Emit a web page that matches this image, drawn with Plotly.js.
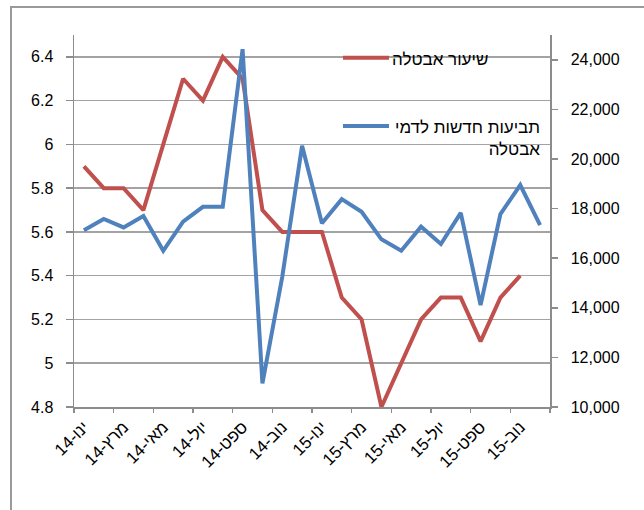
<!DOCTYPE html>
<html>
<head>
<meta charset="utf-8">
<script src="https://cdn.plot.ly/plotly-3.0.1.min.js"></script>
<style>
  html, body { margin: 0; padding: 0; background: #ffffff; overflow: hidden; }
  #chart { position: absolute; left: 0; top: 0; width: 644px; height: 510px; }
  #frame { position: absolute; left: 10px; top: 6px; width: 700px; height: 600px;
           border-left: 2px solid #9a9a9a; border-top: 2px solid #9a9a9a; pointer-events: none; }
</style>
</head>
<body>
<div id="chart"></div>
<div id="frame"></div>
<script>
// Categories (months Jan-14 .. Dec-15)
const categories = ['ינו-14','פבר-14','מרץ-14','אפר-14','מאי-14','יונ-14','יול-14','אוג-14','ספט-14','אוק-14','נוב-14','דצמ-14',
                    'ינו-15','פבר-15','מרץ-15','אפר-15','מאי-15','יונ-15','יול-15','אוג-15','ספט-15','אוק-15','נוב-15','דצמ-15'];
// Tick labels shown on the x axis
const tickLabels = ['ינו-14','מרץ-14','מאי-14','יול-14','ספט-14','נוב-14','ינו-15','מרץ-15','מאי-15','יול-15','ספט-15','נוב-15'];
// Series 1: unemployment rate (left axis)
const unemploymentRate = [5.9,5.8,5.8,5.7,6.0,6.3,6.2,6.4,6.3,5.7,5.6,5.6,5.6,5.3,5.2,4.8,5.0,5.2,5.3,5.3,5.1,5.3,5.4];
// Series 2: new unemployment benefit claims (right axis)
const newClaims = [17130,17580,17240,17700,16300,17470,18070,18070,24430,10950,15250,20530,
                   17410,18380,17870,16760,16300,17270,16570,17830,14110,17780,18950,17330];
// Legend names
const nameRate = 'שיעור אבטלה';
const nameClaims = 'תביעות חדשות לדמי<br>אבטלה';

const RED = '#C0504D';
const BLUE = '#4F81BD';
const FONT = 'Liberation Sans, Arial, DejaVu Sans, sans-serif';

const traces = [
  // empty helper trace so the tick-mark companion axis (x2) gets drawn
  { x: [], y: [], type: 'scatter', mode: 'lines', xaxis: 'x2', yaxis: 'y', showlegend: false, hoverinfo: 'skip' },
  { x: categories.slice(0, unemploymentRate.length), y: unemploymentRate, type: 'scatter', mode: 'lines',
    name: nameRate, line: { color: RED, width: 4 }, xaxis: 'x', yaxis: 'y', showlegend: false },
  { x: categories.slice(0, newClaims.length), y: newClaims, type: 'scatter', mode: 'lines',
    name: nameClaims, line: { color: BLUE, width: 4 }, xaxis: 'x', yaxis: 'y2', showlegend: false }
];

// plot area helpers for the legend (paper coords)
const L = 74, R = 550, T = 35, B = 407;
const px = v => (v - L) / (R - L);
const py = v => (B - v) / (B - T);

const layout = {
  width: 644, height: 510,
  margin: { l: L, r: 644 - R, t: T, b: 510 - B },
  paper_bgcolor: '#ffffff', plot_bgcolor: '#ffffff',
  font: { family: FONT, size: 16, color: '#000000' },
  showlegend: false,
  xaxis: {
    type: 'category',
    categoryorder: 'array', categoryarray: categories,
    range: [-0.5, categories.length - 0.5],
    tickmode: 'array', tickvals: tickLabels, ticktext: tickLabels,
    tickangle: -45,
    ticks: '', ticklabelstandoff: 2,
    showline: true, linecolor: '#8c8c8c', linewidth: 1.5,
    showgrid: false, zeroline: false,
    tickfont: { family: FONT, size: 17, color: '#000' }
  },
  // companion axis only used to place tick marks between every second category
  xaxis2: {
    overlaying: 'x', anchor: 'y', side: 'bottom', type: 'linear',
    range: [-0.5, categories.length - 0.5],
    tickmode: 'linear', tick0: -0.5, dtick: 2,
    ticks: 'outside', ticklen: 5, tickcolor: '#8c8c8c', tickwidth: 1.5,
    showticklabels: false, showline: false, showgrid: false, zeroline: false
  },
  yaxis: {
    range: [4.8, 6.5], tick0: 4.8, dtick: 0.2, tickmode: 'linear',
    ticks: 'outside', ticklen: 7, tickcolor: '#8c8c8c', tickwidth: 1.5,
    ticklabelstandoff: 9,
    showline: true, linecolor: '#8c8c8c', linewidth: 1.5,
    showgrid: true, gridcolor: '#a3a3a3', gridwidth: 1.5, zeroline: false,
    tickfont: { family: FONT, size: 16, color: '#000' }
  },
  yaxis2: {
    overlaying: 'y', side: 'right',
    range: [10000, 25000], tick0: 10000, dtick: 2000, tickmode: 'linear',
    tickformat: ',d',
    ticks: 'outside', ticklen: 6, tickcolor: '#8c8c8c', tickwidth: 1.5,
    ticklabelstandoff: 10,
    showline: true, linecolor: '#8c8c8c', linewidth: 1.5,
    showgrid: false, zeroline: false,
    tickfont: { family: FONT, size: 16, color: '#000' }
  },
  shapes: [
    { type: 'line', xref: 'paper', yref: 'paper', x0: px(343), x1: px(389), y0: py(57.7), y1: py(57.7),
      line: { color: RED, width: 4 } },
    { type: 'line', xref: 'paper', yref: 'paper', x0: px(343), x1: px(389), y0: py(126), y1: py(126),
      line: { color: BLUE, width: 4 } }
  ],
  annotations: [
    { xref: 'paper', yref: 'paper', x: px(490), y: py(59), xanchor: 'right', yanchor: 'middle',
      text: nameRate, showarrow: false, align: 'right', font: { family: FONT, size: 17, color: '#000' } },
    { xref: 'paper', yref: 'paper', x: px(542), y: py(138), xanchor: 'right', yanchor: 'middle',
      text: nameClaims, showarrow: false, align: 'right', font: { family: FONT, size: 17, color: '#000' } }
  ]
};

Plotly.newPlot('chart', traces, layout, { displayModeBar: false, staticPlot: true });
</script>
</body>
</html>
